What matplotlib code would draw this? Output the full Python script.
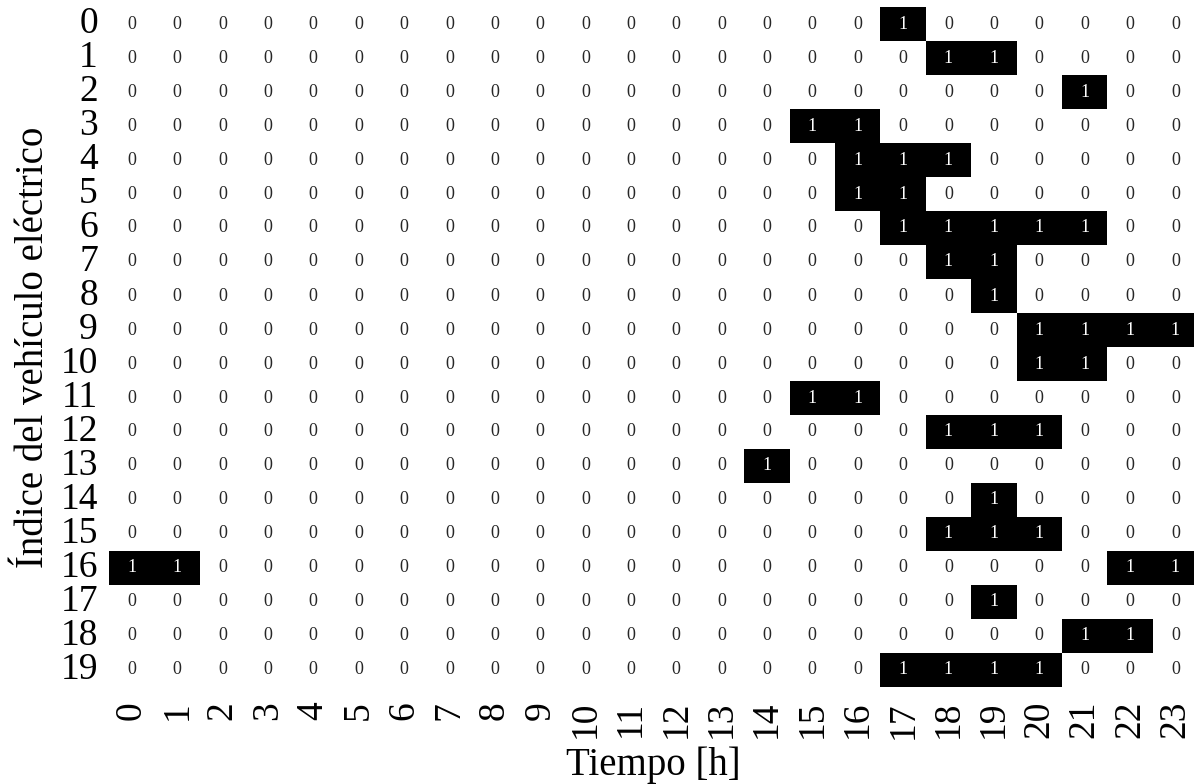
import matplotlib
matplotlib.use("Agg")
import matplotlib.pyplot as plt
import numpy as np
import seaborn as sns

plt.rcParams['font.family'] = ['Liberation Serif', 'DejaVu Serif']

hours = list(range(24))
vehicles = list(range(20))
# hours in which each vehicle is charging (value 1)
on_hours = {
    0: [17],
    1: [18, 19],
    2: [21],
    3: [15, 16],
    4: [16, 17, 18],
    5: [16, 17],
    6: [17, 18, 19, 20, 21],
    7: [18, 19],
    8: [19],
    9: [20, 21, 22, 23],
    10: [20, 21],
    11: [15, 16],
    12: [18, 19, 20],
    13: [14],
    14: [19],
    15: [18, 19, 20],
    16: [0, 1, 22, 23],
    17: [19],
    18: [21, 22],
    19: [17, 18, 19, 20],
}

data = np.zeros((len(vehicles), len(hours)), dtype=int)
for v, hs in on_hours.items():
    for h in hs:
        data[v, h] = 1

fig = plt.figure(figsize=(11.94, 7.84), dpi=100)
W, H = 1194, 784
ax = fig.add_axes([109 / W, 1 - 687 / H, (1198 - 109) / W, (687 - 7) / H])
sns.heatmap(data, cmap='binary', vmin=0, vmax=1, annot=True, fmt='d', cbar=False,
            annot_kws={'fontsize': 13}, ax=ax,
            xticklabels=hours, yticklabels=vehicles)
ax.tick_params(axis='y', length=0, labelsize=27, pad=8)
ax.tick_params(axis='x', length=0, labelsize=27, pad=10)
plt.setp(ax.get_xticklabels(), rotation=90)
plt.setp(ax.get_yticklabels(), rotation=0)
ax.set_xlabel('Tiempo [h]', fontsize=28, labelpad=6)
ax.set_ylabel('Índice del vehículo eléctrico', fontsize=28, labelpad=6)

fig.savefig('out.png', dpi=100)
